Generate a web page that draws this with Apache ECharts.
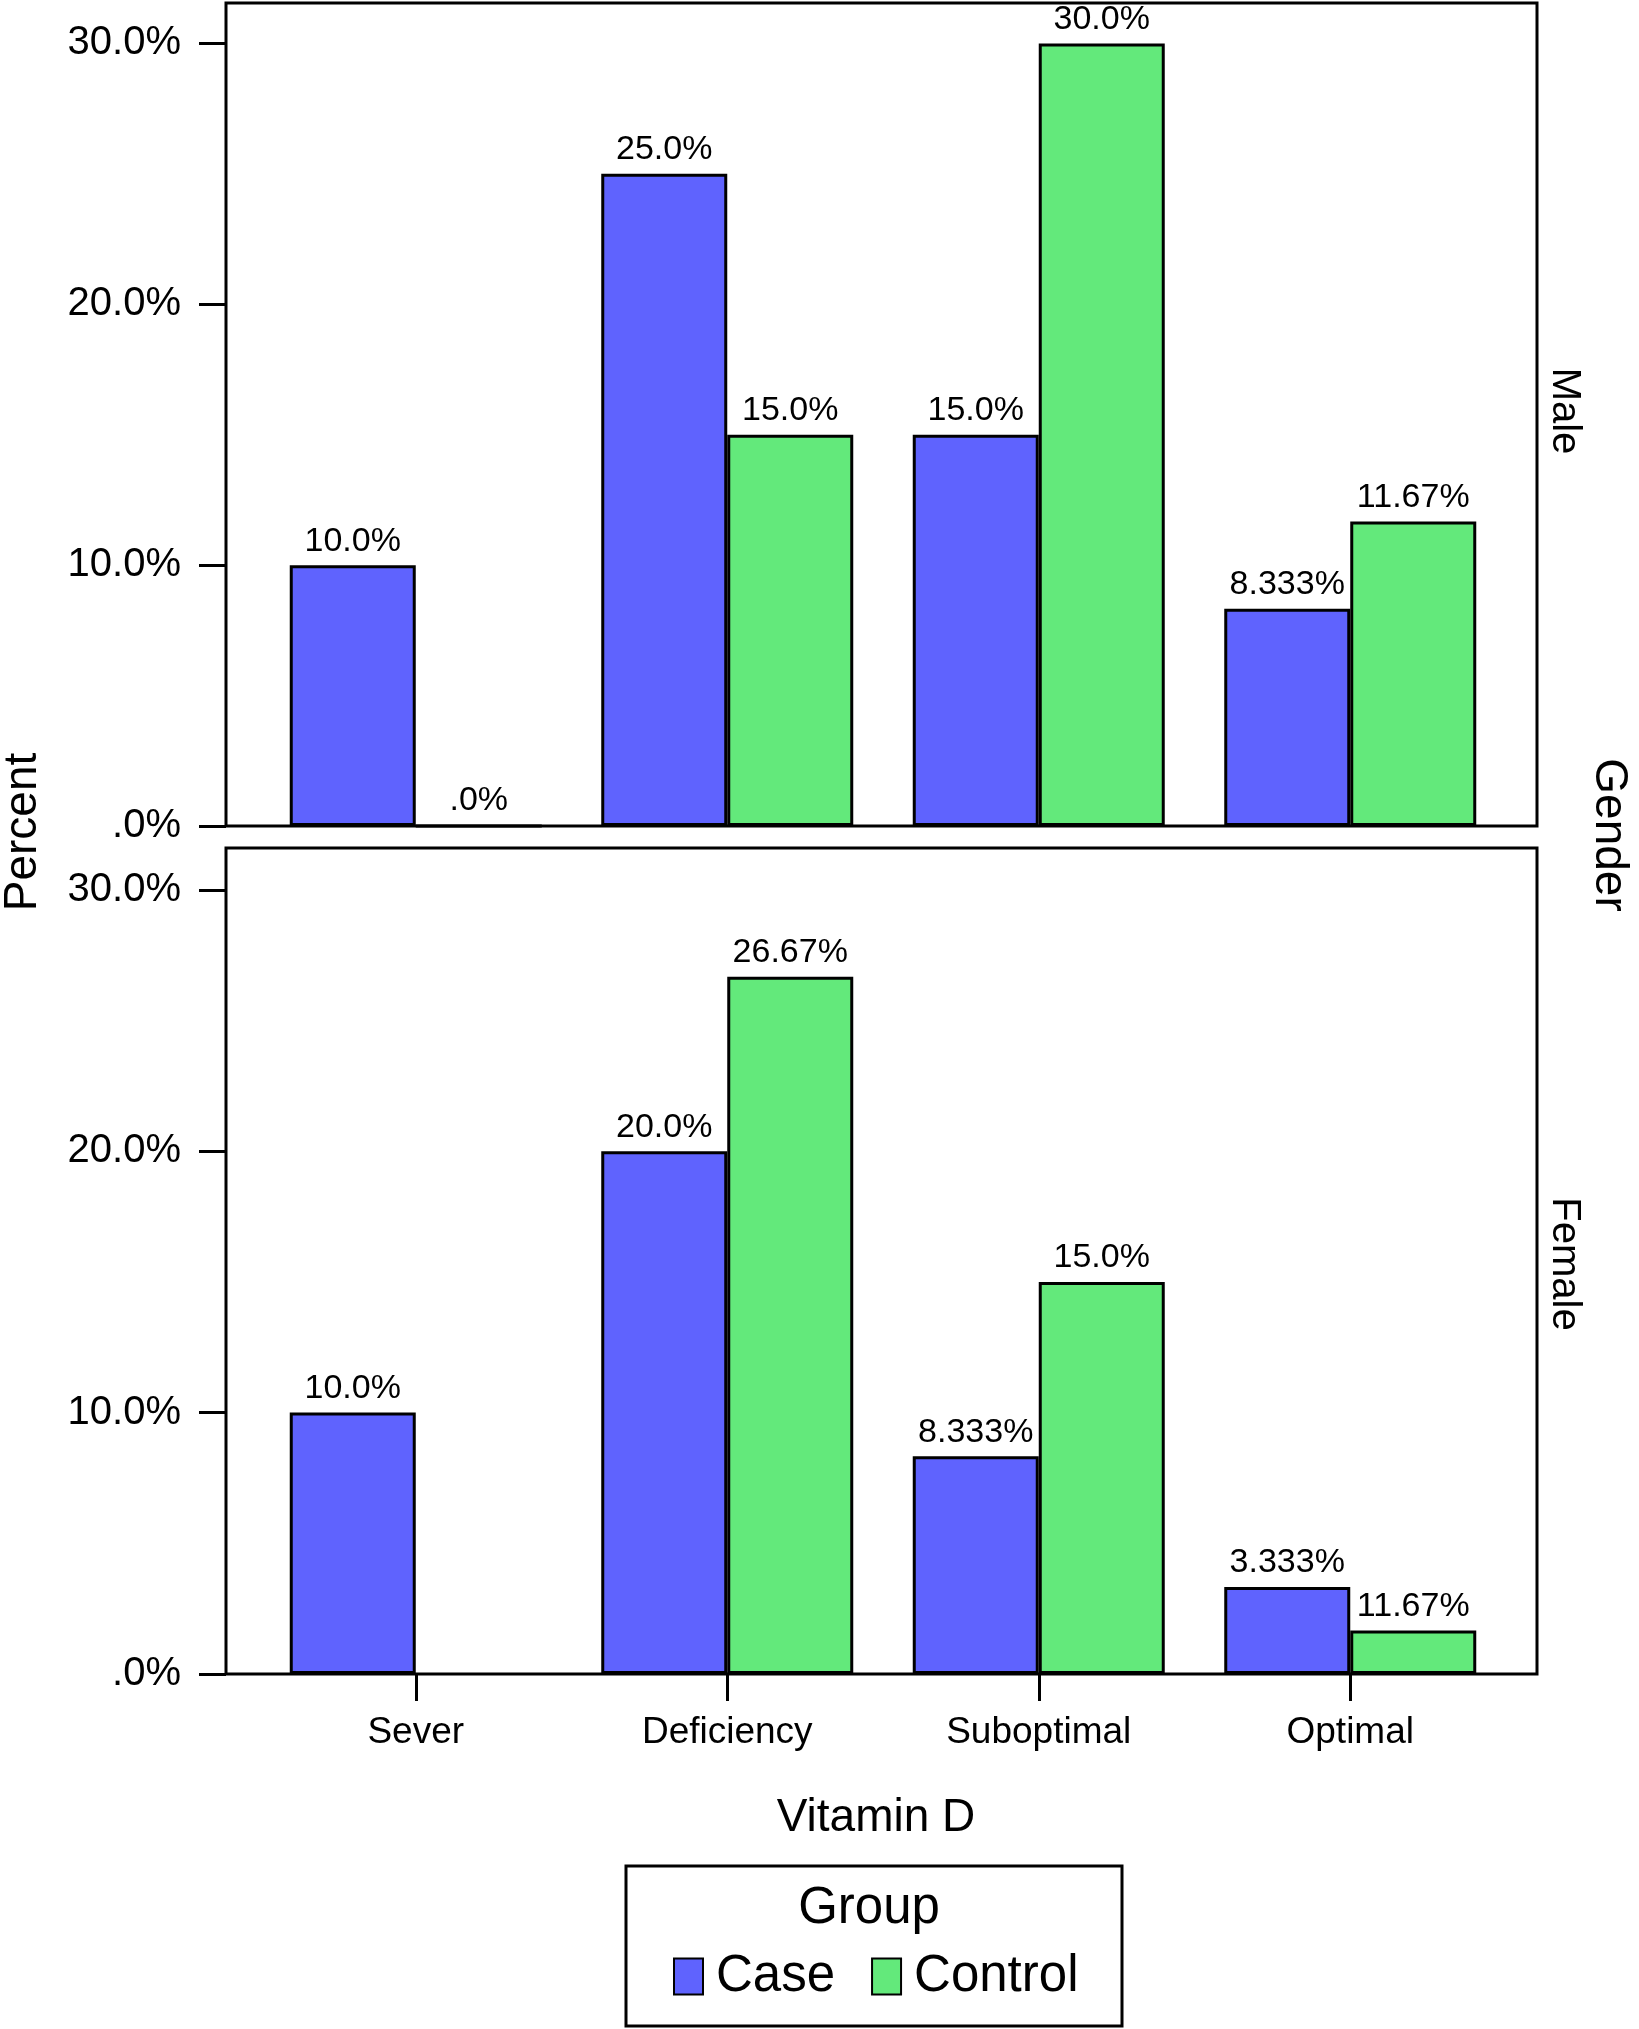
<!DOCTYPE html>
<html>
<head>
<meta charset="utf-8">
<script src="https://cdn.jsdelivr.net/npm/echarts@6/dist/echarts.min.js"></script>
<style>
html,body{margin:0;padding:0;background:#fff;}
#chart{width:1639px;height:2029px;}
</style>
</head>
<body>
<div id="chart"></div>
<script>
// ---- data ----
const categories = ['Sever', 'Deficiency', 'Suboptimal', 'Optimal'];
const groups = ['Case', 'Control'];
const maleCase = [10.0, 25.0, 15.0, 8.333];
const maleControl = [0.0, 15.0, 30.0, 11.67];
const femaleCase = [10.0, 20.0, 8.333, 3.333];
const femaleControl = [null, 26.67, 15.0, 1.667];
const maleCaseLabels = ['10.0%', '25.0%', '15.0%', '8.333%'];
const maleControlLabels = ['.0%', '15.0%', '30.0%', '11.67%'];
const femaleCaseLabels = ['10.0%', '20.0%', '8.333%', '3.333%'];
const femaleControlLabels = ['', '26.67%', '15.0%', '11.67%'];
const yTickValues = [0, 10, 20, 30];
const yTickLabels = ['.0%', '10.0%', '20.0%', '30.0%'];

// ---- style ----
const FONT = "'Liberation Sans', Arial, Helvetica, sans-serif";
const BLUE = '#5F63FE';
const GREEN = '#63E97B';

const chart = echarts.init(document.getElementById('chart'), null, {renderer: 'canvas'});

function frameY(gi, max) {
  return {
    gridIndex: gi, type: 'value', min: 0, max: max,
    axisLine: {show: false},
    splitLine: {show: false},
    axisTick: {show: true, length: 27, inside: false, customValues: yTickValues,
      lineStyle: {color: '#000', width: 3}},
    axisLabel: {show: true, customValues: yTickValues, margin: 45, fontSize: 40,
      color: '#000', fontFamily: FONT,
      formatter: function (v) { const i = yTickValues.indexOf(v); return i >= 0 ? yTickLabels[i] : ''; }}
  };
}
function hiddenX(gi) { return {gridIndex: gi, type: 'value', min: 0, max: 1, show: false}; }
function barSeries(name, xi, data, labels, color) {
  return {
    name: name, type: 'bar', xAxisIndex: xi, yAxisIndex: xi, data: data,
    barWidth: 126, barGap: '0%',
    itemStyle: {color: color, borderColor: '#000', borderWidth: 3},
    label: {show: true, position: 'top', distance: 7, fontSize: 34, color: '#000', fontFamily: FONT,
      formatter: function (p) { return labels[p.dataIndex]; }},
    emphasis: {disabled: true}
  };
}

const TOP_MAX = 31.55, BOT_MAX = 31.6;

const option = {
  animation: false,
  backgroundColor: '#fff',
  textStyle: {fontFamily: FONT},
  grid: [
    {left: 226, top: 3, width: 1311, height: 823, show: true, borderColor: '#000', borderWidth: 3, backgroundColor: 'transparent', outerBoundsMode: 'none'},
    {left: 260, top: 3, width: 1246, height: 823, outerBoundsMode: 'none'},
    {left: 226, top: 848, width: 1311, height: 826, show: true, borderColor: '#000', borderWidth: 3, backgroundColor: 'transparent', outerBoundsMode: 'none'},
    {left: 260, top: 848, width: 1246, height: 826, outerBoundsMode: 'none'}
  ],
  xAxis: [
    hiddenX(0),
    {gridIndex: 1, type: 'category', data: categories, axisLine: {show: false}, axisTick: {show: false}, axisLabel: {show: false}},
    hiddenX(2),
    {gridIndex: 3, type: 'category', data: categories, axisLine: {show: false},
      axisTick: {show: true, alignWithLabel: true, length: 27, lineStyle: {color: '#000', width: 3}},
      axisLabel: {show: true, margin: 40, fontSize: 37, color: '#000', fontFamily: FONT}}
  ],
  yAxis: [
    frameY(0, TOP_MAX),
    {gridIndex: 1, type: 'value', min: 0, max: TOP_MAX, show: false},
    frameY(2, BOT_MAX),
    {gridIndex: 3, type: 'value', min: 0, max: BOT_MAX, show: false}
  ],
  legend: {
    data: groups, left: 668, top: 1946, orient: 'horizontal',
    icon: 'rect', itemWidth: 29, itemHeight: 36, itemGap: 36,
    itemStyle: {borderColor: '#000', borderWidth: 2},
    textStyle: {fontSize: 51, lineHeight: 40, color: '#000', fontFamily: FONT, padding: [0, 0, 0, 8]},
    selectedMode: false
  },
  series: [
    barSeries(groups[0], 1, maleCase, maleCaseLabels, BLUE),
    barSeries(groups[1], 1, maleControl, maleControlLabels, GREEN),
    barSeries(groups[0], 3, femaleCase, femaleCaseLabels, BLUE),
    barSeries(groups[1], 3, femaleControl, femaleControlLabels, GREEN)
  ],
  graphic: [
    {type: 'rect', shape: {x: 626, y: 1866, width: 496, height: 160}, style: {fill: 'none', stroke: '#000', lineWidth: 3}},
    {type: 'text', x: 869, y: 1909, style: {text: 'Group', font: '51px ' + FONT, fill: '#000', align: 'center', verticalAlign: 'middle'}},
    {type: 'text', x: 876, y: 1818, style: {text: 'Vitamin D', font: '46px ' + FONT, fill: '#000', align: 'center', verticalAlign: 'middle'}},
    {type: 'text', x: 23, y: 832, rotation: Math.PI / 2, style: {text: 'Percent', font: '46px ' + FONT, fill: '#000', align: 'center', verticalAlign: 'middle'}},
    {type: 'text', x: 1609, y: 835, rotation: -Math.PI / 2, style: {text: 'Gender', font: '46px ' + FONT, fill: '#000', align: 'center', verticalAlign: 'middle'}},
    {type: 'text', x: 1564, y: 411, rotation: -Math.PI / 2, style: {text: 'Male', font: '40px ' + FONT, fill: '#000', align: 'center', verticalAlign: 'middle'}},
    {type: 'text', x: 1564, y: 1264, rotation: -Math.PI / 2, style: {text: 'Female', font: '40px ' + FONT, fill: '#000', align: 'center', verticalAlign: 'middle'}}
  ]
};
chart.setOption(option);
</script>
</body>
</html>
